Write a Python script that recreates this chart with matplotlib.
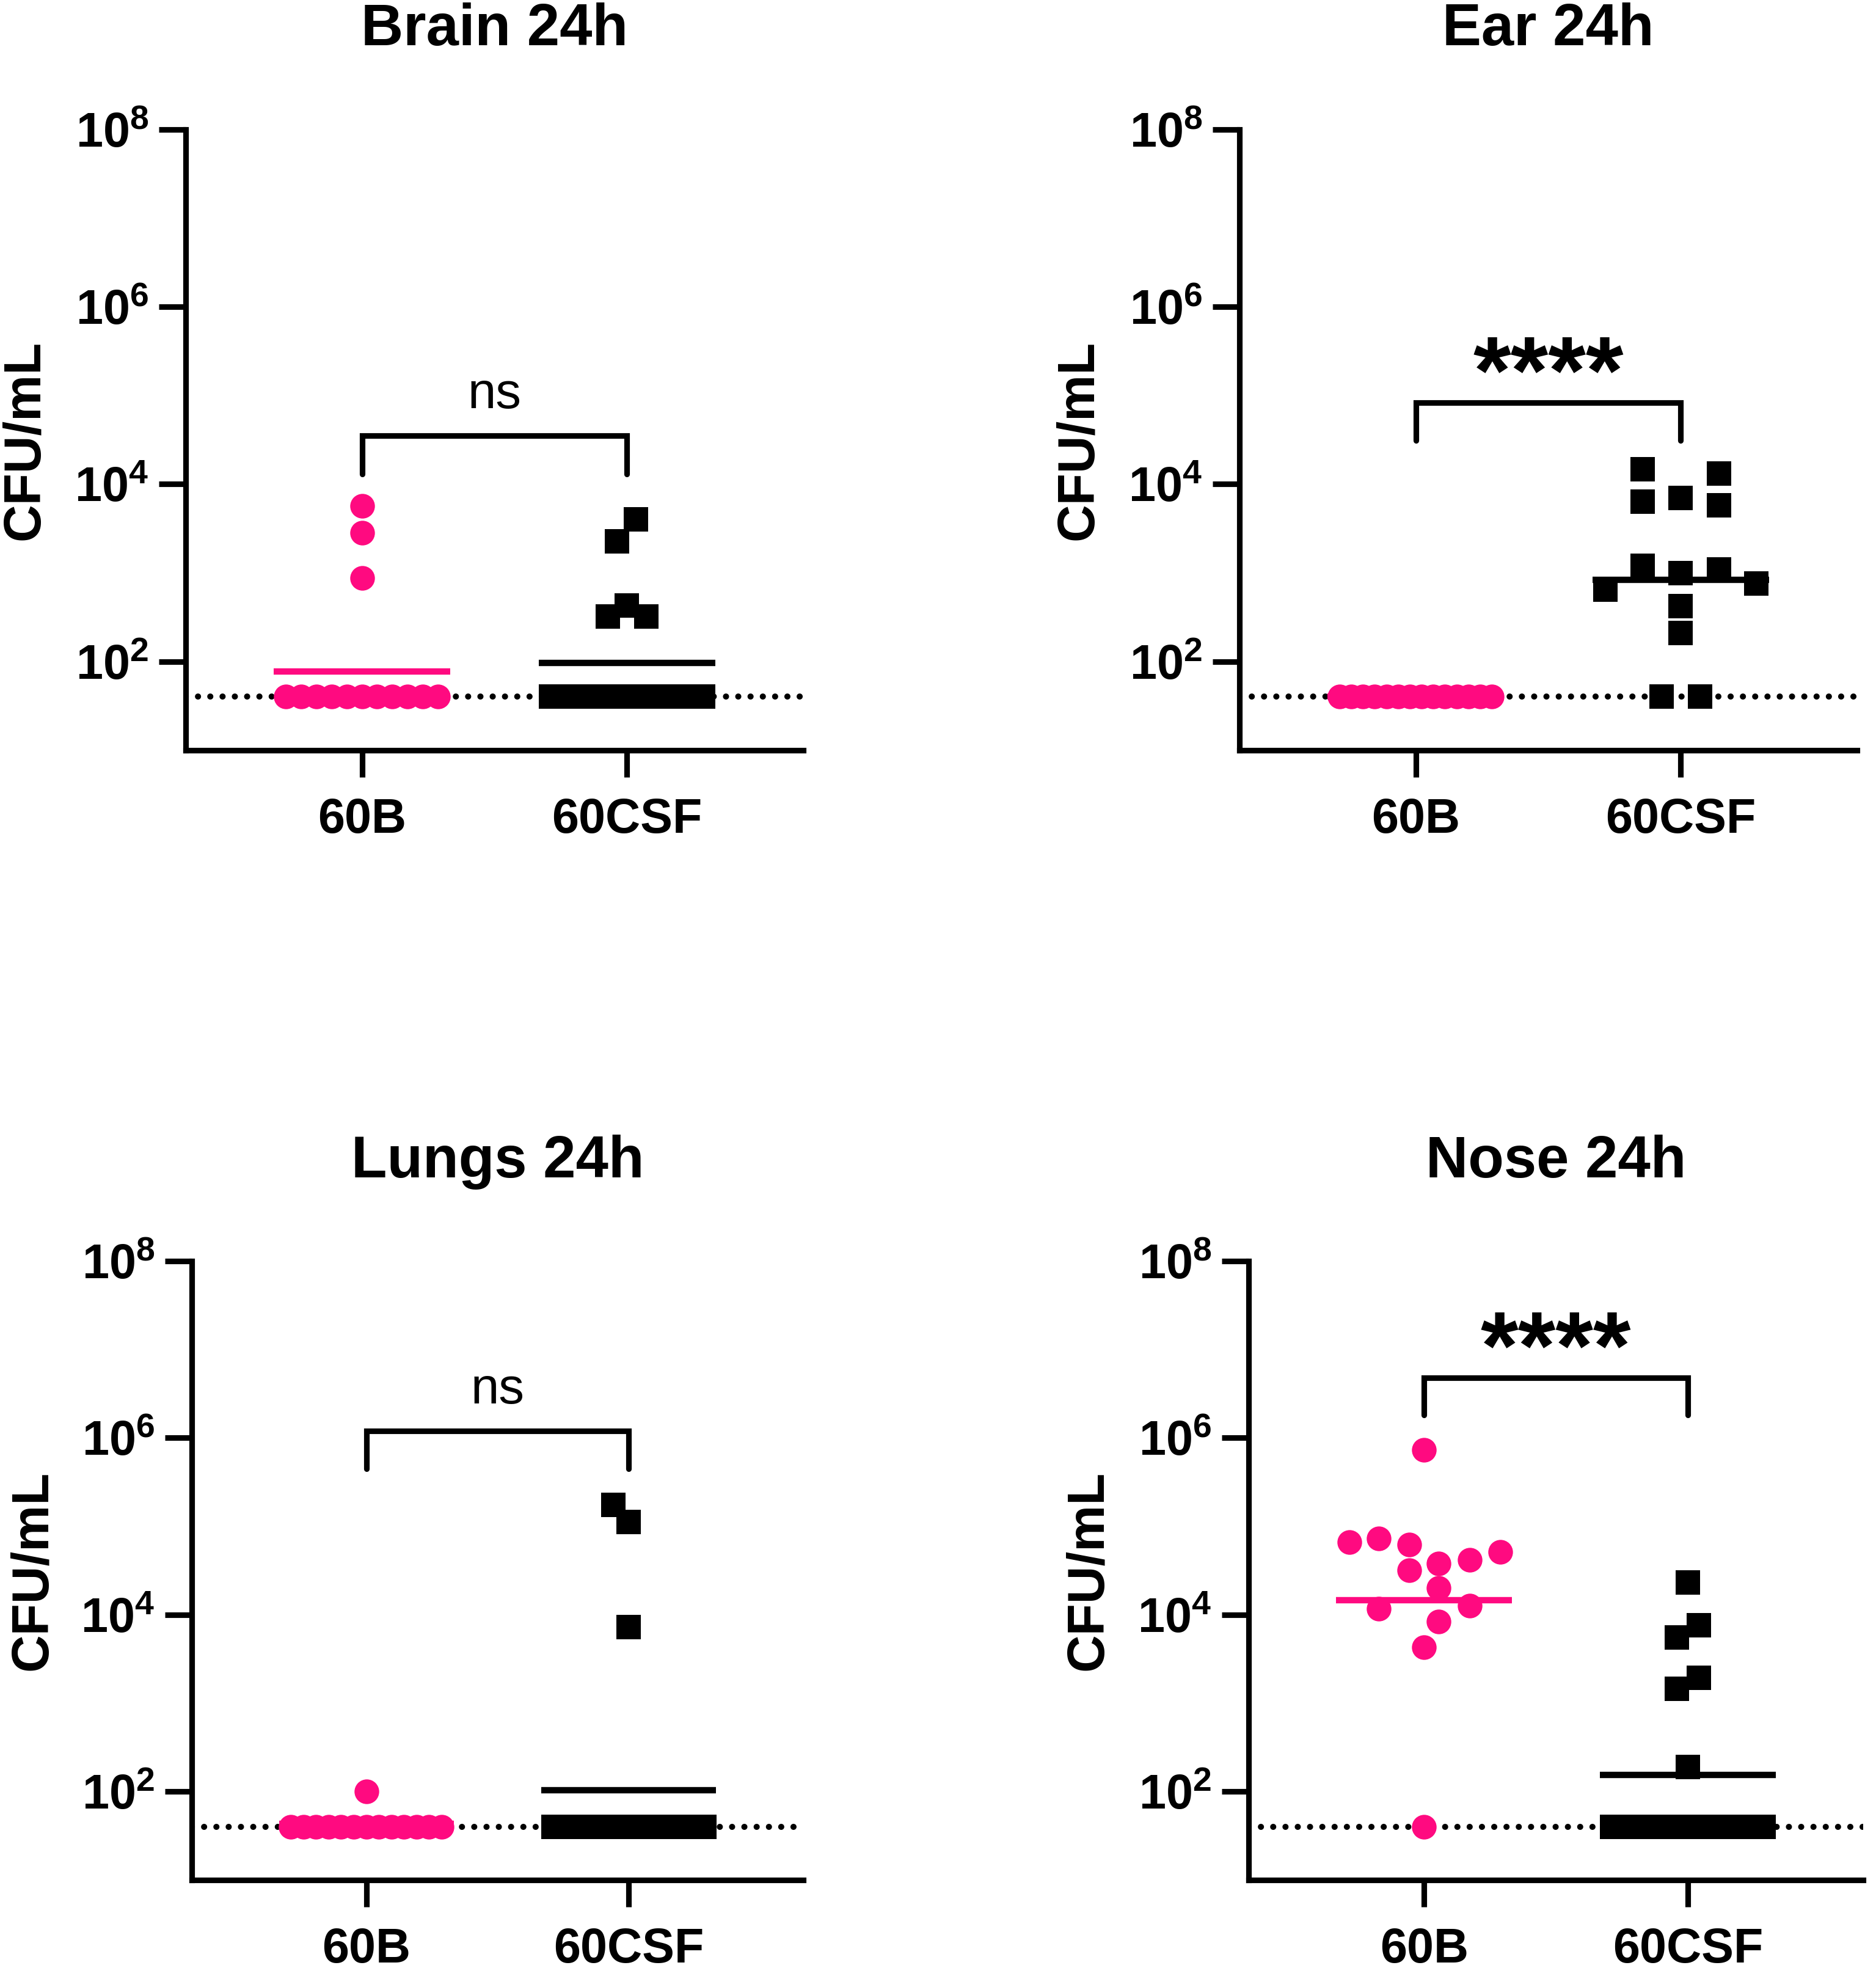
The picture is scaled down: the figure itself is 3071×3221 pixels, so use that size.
import numpy as np
import matplotlib
matplotlib.use('Agg')
import matplotlib.pyplot as plt
from matplotlib.ticker import FixedLocator, FuncFormatter, NullLocator

plt.rcParams['font.family'] = ['Liberation Sans', 'DejaVu Sans']
plt.rcParams['mathtext.fontset'] = 'custom'
plt.rcParams['mathtext.rm'] = 'Liberation Sans:bold'
plt.rcParams['mathtext.bf'] = 'Liberation Sans:bold'
plt.rcParams['mathtext.it'] = 'Liberation Sans:bold'
plt.rcParams['mathtext.default'] = 'bf'

# ---------------- data ----------------
groups = ['60B', '60CSF']
titles = ['Brain 24h', 'Ear 24h', 'Lungs 24h', 'Nose 24h']
stats = ['ns', '****', 'ns', '****']
LOD = 40  # limit of detection (dotted line)

# values above the limit of detection, then the number of points at the LOD
brain_60b = [5700, 2850, 877]
brain_60b_lod = 11
brain_csf = [4000, 2250, 431, 322, 322]
brain_csf_lod = 9

ear_60b = []
ear_60b_lod = 14
ear_csf = [14800, 6400, 7000, 13100, 5800, 650, 1200, 990, 1090, 764, 425, 209]
ear_csf_lod = 2

lungs_60b = [100]
lungs_60b_lod = 13
lungs_csf = [174000, 112000, 7300]
lungs_csf_lod = 11

nose_60b = [738000, 66000, 73000, 62000, 51000, 38000, 42000, 32000, 20000,
            11700, 12600, 8400, 4300]
nose_60b_lod = 1
nose_csf = [23100, 7600, 5500, 1930, 1450, 191]
nose_csf_lod = 8

# centre lines
brain_means = [77, 97]
ear_means = [40, 840]
lungs_means = [43, 103]
nose_means = [14600, 154]

# significance brackets: (bracket top, leg bottom)
bracket_top = [10**4.55, 10**4.92, 10**6.08, 10**6.68]
bracket_leg = [10**4.11, 10**4.49, 10**5.65, 10**6.26]

# ---------------- layout (horizontal offsets of raised points) ----------------
brain_60b_dx = [0, 0, 0]
brain_csf_dx = [0.034, -0.039, 0, -0.072, 0.072]
ear_60b_dx = []
ear_csf_dx = [-0.145, -0.145, 0, 0.145, 0.145, -0.285, -0.145, 0, 0.145, 0.285, 0, 0]
lungs_60b_dx = [0]
lungs_csf_dx = [-0.058, 0, 0]
nose_60b_dx = [0, -0.282, -0.172, -0.056, 0.289, 0.056, 0.174, -0.056, 0.056,
               -0.172, 0.174, 0.056, 0]
nose_csf_dx = [0, 0.042, -0.042, 0.042, -0.042, 0]

panels = [
    (brain_60b, brain_60b_lod, brain_60b_dx, brain_csf, brain_csf_lod, brain_csf_dx, brain_means),
    (ear_60b, ear_60b_lod, ear_60b_dx, ear_csf, ear_csf_lod, ear_csf_dx, ear_means),
    (lungs_60b, lungs_60b_lod, lungs_60b_dx, lungs_csf, lungs_csf_lod, lungs_csf_dx, lungs_means),
    (nose_60b, nose_60b_lod, nose_60b_dx, nose_csf, nose_csf_lod, nose_csf_dx, nose_means),
]

rects = [
    [0.0990, 0.6188, 0.3292, 0.3154],
    [0.6607, 0.6188, 0.3292, 0.3154],
    [0.1022, 0.0447, 0.3260, 0.3145],
    [0.6656, 0.0447, 0.3276, 0.3145],
]

PINK = '#FF0A80'
BLACK = '#000000'
MS = 9.7

fig = plt.figure(figsize=(3071 / 300, 3221 / 300), dpi=300)


def lod_spread(n):
    if n <= 1:
        return np.zeros(n)
    half = min(0.287, 0.0725 * (n - 1))
    return np.linspace(-half, half, n)


for i, (a_vals, a_lod, a_dx, b_vals, b_lod, b_dx, means) in enumerate(panels):
    ax = fig.add_axes(rects[i])
    ax.set_yscale('log')
    ax.set_ylim(10, 1e8)
    ax.set_xlim(0.335, 2.665)

    # limit-of-detection dotted line
    ax.axhline(LOD, color='black', lw=2.4, linestyle=(0, (0.01, 2.0)),
               dash_capstyle='round', zorder=1)

    for g, (vals, nlod, dx, color, marker) in enumerate([
            (a_vals, a_lod, a_dx, PINK, 'o'),
            (b_vals, b_lod, b_dx, BLACK, 's')]):
        xc = g + 1
        xs = list(xc + np.array(dx, dtype=float)) + list(xc + lod_spread(nlod))
        ys = list(vals) + [LOD] * nlod
        ax.plot(xs, ys, linestyle='none', marker=marker, ms=MS, mfc=color,
                mec=color, mew=0, zorder=2, clip_on=False)
        ax.plot([xc - 0.333, xc + 0.333], [means[g], means[g]], color=color,
                lw=2.5, solid_capstyle='butt', zorder=3)

    # bracket
    ax.plot([1, 1, 2, 2], [bracket_leg[i], bracket_top[i], bracket_top[i], bracket_leg[i]],
            color='black', lw=2.2, solid_capstyle='round', solid_joinstyle='miter',
            clip_on=False, zorder=4)
    if stats[i] == 'ns':
        ax.text(1.5, bracket_top[i] * 10**0.31, stats[i], ha='center', va='baseline',
                fontsize=20, fontweight='normal')
    else:
        ax.text(1.5, bracket_top[i] * 10**0.27, stats[i], ha='center', va='center',
                fontsize=38, fontweight='bold')

    # axes styling
    for s in ['top', 'right']:
        ax.spines[s].set_visible(False)
    for s in ['left', 'bottom']:
        ax.spines[s].set_linewidth(2.2)
    ax.yaxis.set_major_locator(FixedLocator([1e2, 1e4, 1e6, 1e8]))
    ax.yaxis.set_minor_locator(NullLocator())
    ax.yaxis.set_major_formatter(FuncFormatter(lambda v, p: r'$10^{%d}$' % round(np.log10(v))))
    ax.set_xticks([1, 2])
    ax.set_xticklabels(groups, fontsize=19, fontweight='bold')
    ax.tick_params(axis='both', direction='out', length=10.5, width=2.2)
    ax.tick_params(axis='y', pad=4.0, labelsize=19)
    ax.tick_params(axis='x', pad=8)

    ax.text(-0.26, 0.5, 'CFU/mL', rotation=90, transform=ax.transAxes,
            ha='center', va='center', fontsize=20.5, fontweight='bold')
    ax.annotate(titles[i], xy=(0.5, 1.0), xycoords='axes fraction',
                xytext=(0, 39), textcoords='offset points', ha='center', va='center',
                fontsize=23, fontweight='bold')

fig.savefig('out.png', dpi=300)
